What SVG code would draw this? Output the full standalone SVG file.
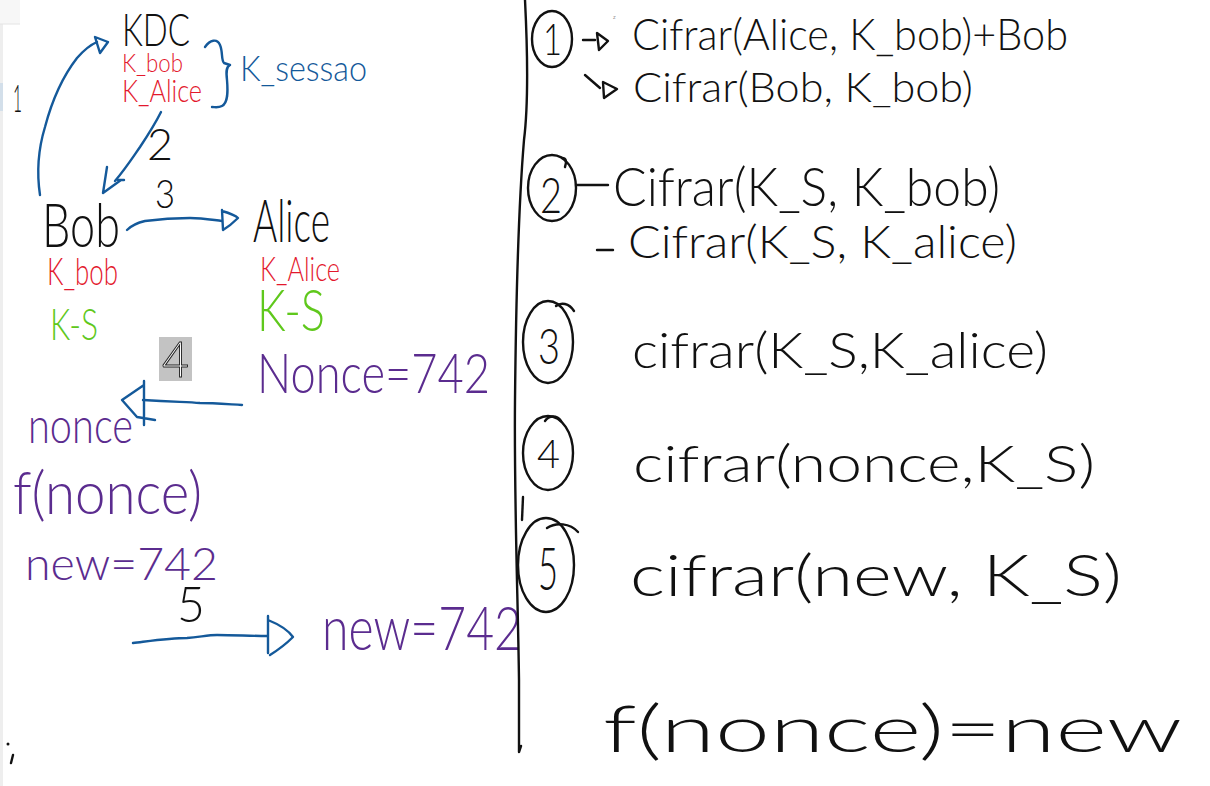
<svg xmlns="http://www.w3.org/2000/svg" width="1210" height="786" viewBox="0 0 1210 786">
<style>
.hw{font-family:Lato,Inter,"Liberation Sans",sans-serif;font-weight:300}
.k{fill:#111}
.r{fill:#e3182d}
.b{fill:#14599a}
.g{fill:#5fc81c}
.p{fill:#5b2c8f}
.ln{fill:none;stroke-width:2.4;stroke-linecap:round;stroke-linejoin:round}
.bl{stroke:#14599a}
.blk{stroke:#111}
</style>
<rect width="1210" height="786" fill="#ffffff"/>
<rect x="0" y="0" width="3" height="786" fill="#eeeeee"/>
<rect x="0" y="0" width="20" height="24" fill="#f7f7f7"/>
<line x1="0" y1="24" x2="20" y2="24" stroke="#e4e4e4" stroke-width="1"/>
<rect x="0" y="83" width="3" height="28" fill="#d3dfea"/>

<g id="KDC">
<text class="hw k" x="122" y="46" font-size="46" textLength="68" lengthAdjust="spacingAndGlyphs">KDC</text>
<text class="hw r" x="122" y="72" font-size="26" textLength="61" lengthAdjust="spacingAndGlyphs">K_bob</text>
<text class="hw r" x="122" y="102" font-size="31" textLength="80" lengthAdjust="spacingAndGlyphs">K_Alice</text>
<path class="ln bl" d="M205,47 C210,40 217,38 220,45 C223,52 221,60 224,63 L230,65 C226,67 226,72 227,80 C228,92 228,103 222,106 C218,108 215,107 212,107"/>
<text class="hw b" x="240" y="81" font-size="36" textLength="127" lengthAdjust="spacingAndGlyphs">K_sessao</text>
</g>

<g id="Bob">
<text class="hw k" x="42" y="247" font-size="62" textLength="78" lengthAdjust="spacingAndGlyphs">Bob</text>
<text class="hw r" x="47" y="285" font-size="38" textLength="71" lengthAdjust="spacingAndGlyphs">K_bob</text>
<text class="hw g" x="50" y="340" font-size="44" textLength="48" lengthAdjust="spacingAndGlyphs">K-S</text>
<text class="hw p" x="28" y="443" font-size="50" textLength="105" lengthAdjust="spacingAndGlyphs">nonce</text>
<text class="hw p" x="13" y="514" font-size="60" textLength="189" lengthAdjust="spacingAndGlyphs">f(nonce)</text>
<text class="hw p" x="25" y="580" font-size="46" textLength="193" lengthAdjust="spacingAndGlyphs">new=742</text>
</g>

<g id="Alice">
<text class="hw k" x="253" y="242" font-size="60" textLength="77" lengthAdjust="spacingAndGlyphs">Alice</text>
<text class="hw r" x="260" y="281" font-size="34" textLength="80" lengthAdjust="spacingAndGlyphs">K_Alice</text>
<text class="hw g" x="257" y="331" font-size="58" textLength="68" lengthAdjust="spacingAndGlyphs">K-S</text>
<text class="hw p" x="257" y="393" font-size="56" textLength="233" lengthAdjust="spacingAndGlyphs">Nonce=742</text>
<text class="hw p" x="322" y="650" font-size="62" textLength="200" lengthAdjust="spacingAndGlyphs">new=742</text>
</g>

<g id="connectors">
<path class="ln bl" d="M40,195 C37,175 38,150 45,127 C50,108 60,80 77,58 C84,50 90,45 97,42"/>
<path class="ln bl" d="M95,37 L100,53 L108,42 Z"/>
<path class="ln bl" d="M161,112 C156,122 148,135 140,147 C133,157 126,168 115,181"/>
<path class="ln bl" d="M107,167 L103,193 L121,180 M118,180 L124,180"/>
<path class="ln bl" d="M127,230 C131,226 136,223 145,221 C160,219 175,218 190,218 C203,218 213,220 222,221"/>
<path class="ln bl" d="M222,210 L223,230 M222,211 C229,213 236,216 238,218 C234,222 228,227 223,230"/>
<path class="ln bl" d="M242,405 C225,404 212,403 200,403 C188,402 178,402 143,400"/>
<path class="ln bl" d="M144,381 L144,425 M144,385 L122,400 L137,417 L155,420"/>
<path class="ln bl" d="M133,643 C150,641 170,638 187,638 C200,637 208,635 217,635 C235,635 250,636 267,636"/>
<path class="ln bl" d="M268,616 L268,653 M268,620 C278,624 288,630 293,637 C287,643 278,650 270,655"/>
<text class="hw k" x="13" y="112" font-size="38" textLength="9" lengthAdjust="spacingAndGlyphs">1</text>
<text class="hw k" x="147" y="160" font-size="44" textLength="26" lengthAdjust="spacingAndGlyphs">2</text>
<text class="hw k" x="155" y="208" font-size="40" textLength="20" lengthAdjust="spacingAndGlyphs">3</text>
<g id="label4">
<rect x="159" y="337" width="33" height="44" fill="#c3c3c3"/>
<text class="hw" x="162" y="377" font-size="50" textLength="27" lengthAdjust="spacingAndGlyphs" fill="#ffffff" stroke="#222" stroke-width="1">4</text>
</g>
<text class="hw k" x="177" y="622" font-size="50" textLength="28" lengthAdjust="spacingAndGlyphs">5</text>
</g>

<g id="divider">
<path class="ln blk" d="M525,0 C527,40 529,100 524,140 C519,200 516,300 515,400 C514,500 518,600 519,680 L519,752 L521,746"/>
<path class="ln blk" d="M523,497 L522,520" stroke-width="2"/>
</g>

<g id="step1">
<ellipse class="ln blk" cx="552" cy="39" rx="20" ry="28"/>
<text class="hw k" x="543" y="55" font-size="44" textLength="19" lengthAdjust="spacingAndGlyphs">1</text>
<path class="ln blk" d="M583,40 L595,40 M597,33 L599,50 L608,41 Z"/>
<text class="hw" x="613" y="19" font-size="6" fill="#444">z</text>
<text class="hw k" x="632" y="50" font-size="44" textLength="436" lengthAdjust="spacingAndGlyphs">Cifrar(Alice, K_bob)+Bob</text>
<path class="ln blk" d="M585,75 L600,88 M603,82 L604,98 L617,89 Z"/>
<text class="hw k" x="633" y="102" font-size="42" textLength="340" lengthAdjust="spacingAndGlyphs">Cifrar(Bob, K_bob)</text>
</g>

<g id="step2">
<ellipse class="ln blk" cx="552" cy="188" rx="24" ry="33"/>
<path class="ln blk" d="M562,158 C566,158 567,161 565,167"/>
<text class="hw k" x="540" y="213" font-size="50" textLength="22" lengthAdjust="spacingAndGlyphs">2</text>
<path class="ln blk" d="M576,185 L608,185"/>
<text class="hw k" x="613" y="206" font-size="54" textLength="387" lengthAdjust="spacingAndGlyphs">Cifrar(K_S, K_bob)</text>
<path class="ln blk" d="M597,250 L613,250"/>
<text class="hw k" x="628" y="258" font-size="46" textLength="389" lengthAdjust="spacingAndGlyphs">Cifrar(K_S, K_alice)</text>
</g>

<g id="step3">
<ellipse class="ln blk" cx="548" cy="342" rx="25" ry="41"/>
<path class="ln blk" d="M556,306 C561,302 569,303 574,311"/>
<text class="hw k" x="538" y="364" font-size="50" textLength="22" lengthAdjust="spacingAndGlyphs">3</text>
<text class="hw k" x="632" y="368" font-size="50" textLength="416" lengthAdjust="spacingAndGlyphs">cifrar(K_S,K_alice)</text>
</g>

<g id="step4">
<ellipse class="ln blk" cx="548" cy="453" rx="25" ry="37"/>
<path class="ln blk" d="M545,421 C549,415 557,415 561,421"/>
<text class="hw k" x="537" y="468" font-size="40" textLength="23" lengthAdjust="spacingAndGlyphs">4</text>
<text class="hw k" x="633" y="482" font-size="52" textLength="462" lengthAdjust="spacingAndGlyphs">cifrar(nonce,K_S)</text>
</g>

<g id="step5">
<ellipse class="ln blk" cx="546" cy="565" rx="28" ry="47"/>
<path class="ln blk" d="M547,528 C556,522 570,523 578,532"/>
<text class="hw k" x="538" y="590" font-size="60" textLength="20" lengthAdjust="spacingAndGlyphs">5</text>
<text class="hw k" x="630" y="596" font-size="58" textLength="492" lengthAdjust="spacingAndGlyphs">cifrar(new, K_S)</text>
</g>

<g id="result">
<text class="hw k" x="603" y="752" font-size="66" textLength="579" lengthAdjust="spacingAndGlyphs">f(nonce)=new</text>
</g>

<g id="mark">
<circle cx="8" cy="744" r="1.5" fill="#111"/>
<path class="ln blk" d="M13,755 L11,763" stroke-width="2"/>
</g>
</svg>
